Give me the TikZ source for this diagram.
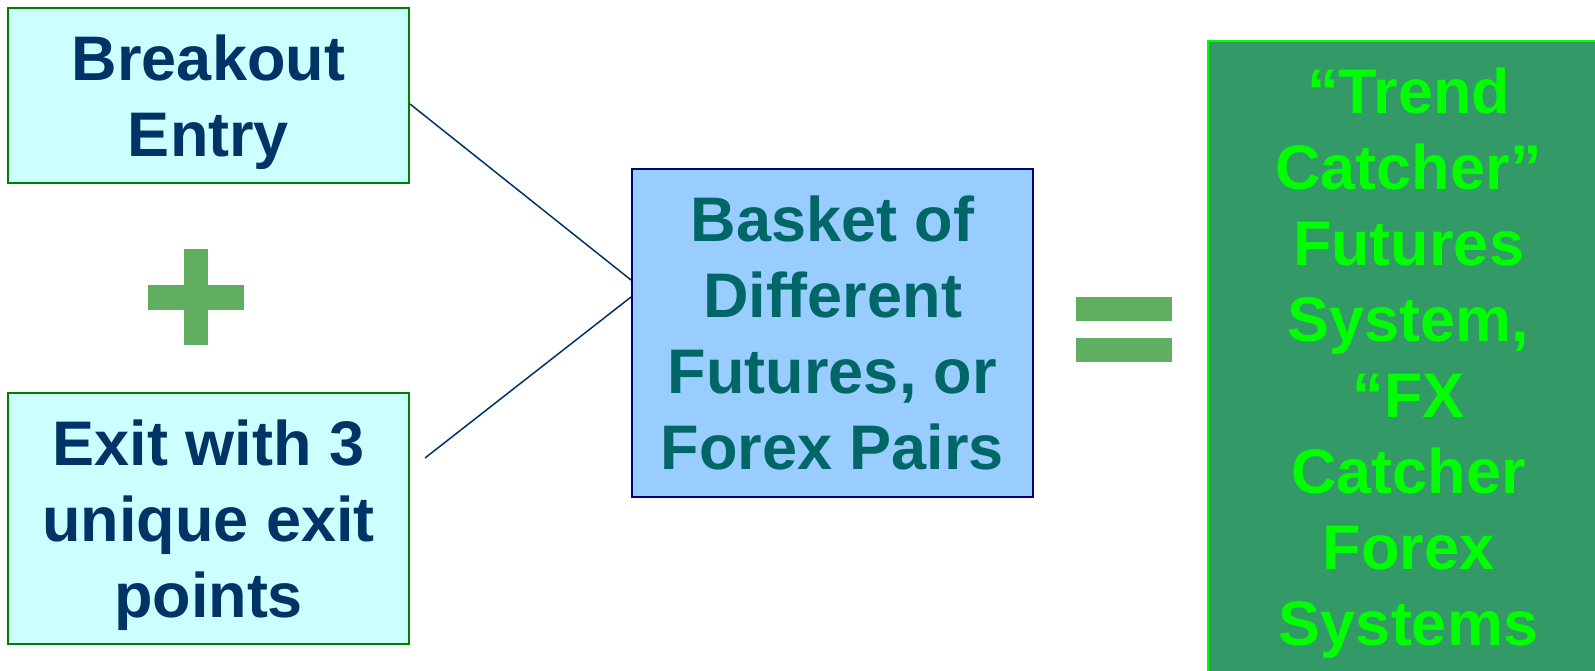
\documentclass[tikz,border=0pt]{standalone}
\usepackage{fontspec}
\setmainfont{Liberation Sans}
\usetikzlibrary{calc}
\definecolor{lightcyan}{HTML}{CCFFFF}
\definecolor{boxgreen}{HTML}{008000}
\definecolor{navytext}{HTML}{003366}
\definecolor{skyblue}{HTML}{99CCFF}
\definecolor{navyborder}{HTML}{000080}
\definecolor{tealtext}{HTML}{006666}
\definecolor{seagreen}{HTML}{339966}
\definecolor{brightgreen}{HTML}{00FF00}
\definecolor{signgreen}{HTML}{60AE60}
\tikzset{
  bigtext/.style={font=\fontsize{63}{76}\selectfont\bfseries, align=center, inner sep=0pt},
  inbox/.style={bigtext, draw=boxgreen, fill=lightcyan, text=navytext, line width=2pt, minimum width=401pt, text depth=-2pt},
  basketbox/.style={bigtext, draw=navyborder, fill=skyblue, text=tealtext, line width=2pt, minimum width=401pt},
  resultbox/.style={bigtext, draw=brightgreen, fill=seagreen, text=brightgreen, line width=2pt, minimum width=401pt},
  link/.style={draw=navytext, line width=1.5pt},
  sign/.style={fill=signgreen, draw=none}
}
\begin{document}
\begin{tikzpicture}[x=1pt,y=-1pt]
\useasboundingbox (0,0) rectangle (1595,671);
\clip (0,0) rectangle (1595,671);
\fill[white] (0,0) rectangle (1595,671);
\node[inbox, minimum height=175pt] (entry) at (208.5,95.5) {Breakout\\Entry};
\node[inbox, minimum height=251pt] (exit) at (208.5,518.5) {Exit with 3\\unique exit\\points};
\node[basketbox, minimum height=328pt] (basket) at (832.5,333) {Basket of\\Different\\Futures, or\\Forex Pairs};
\node[resultbox, minimum height=645pt] (result) at (1408.5,363.5) {“Trend\\Catcher”\\Futures\\System,\\“FX\\Catcher\\Forex\\Systems};
% plus sign
\path[sign] (184,249) rectangle (208,345);
\path[sign] (148,285) rectangle (244,310);
% equals sign
\path[sign] (1076,297) rectangle (1172,321);
\path[sign] (1076,338) rectangle (1172,362);
% connectors
\coordinate (exitend) at (425,458);
\draw[link] ($(entry.east)+(0,8.5)$) -- ($(basket.west)+(0,-53)$);
\draw[link] (exitend) -- ($(basket.west)+(0,-36)$);
\end{tikzpicture}
\end{document}
